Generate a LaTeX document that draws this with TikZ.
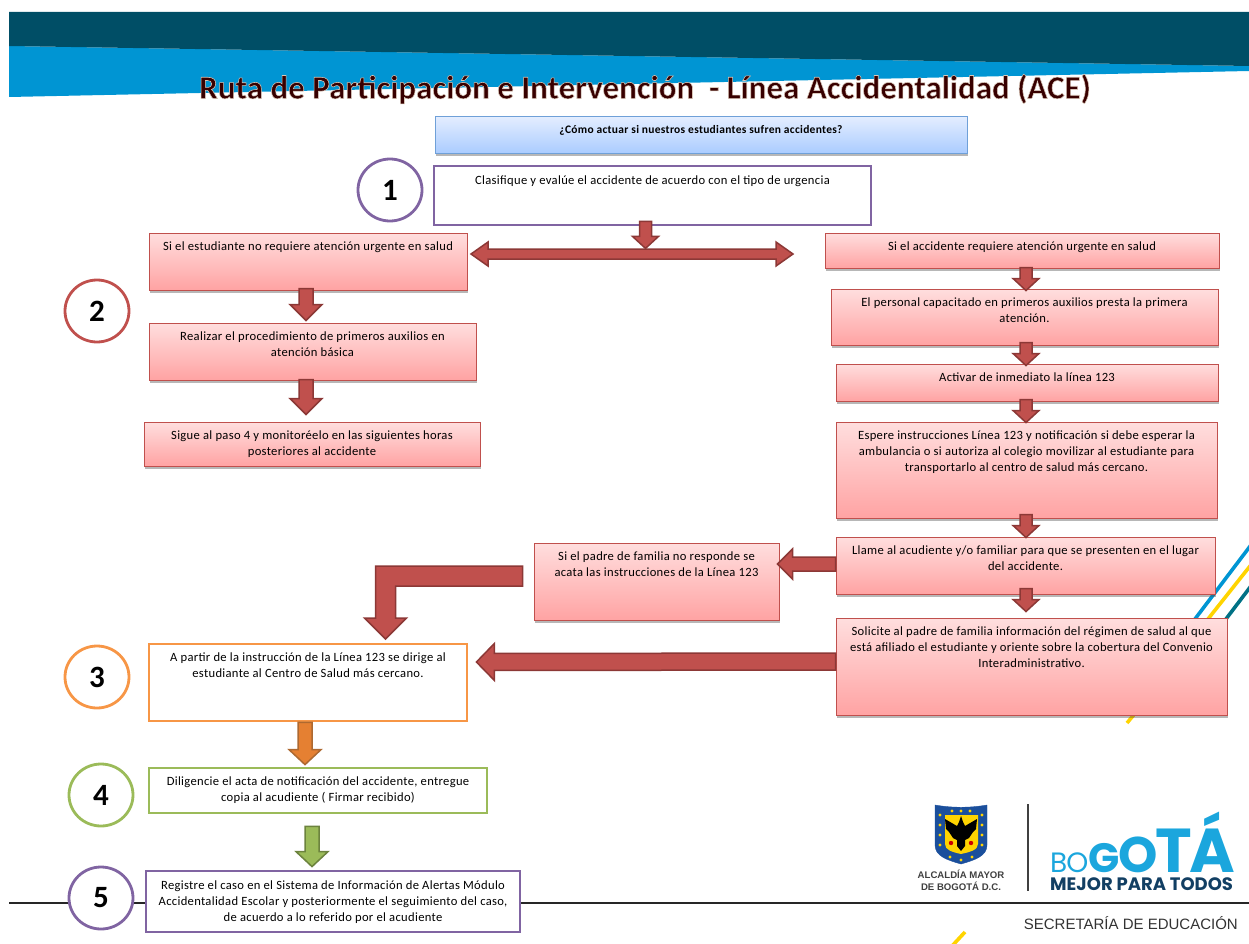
\documentclass[tikz,border=0pt]{standalone}
\usepackage{fontspec}
\setmainfont{Carlito}
\newfontfamily\bodyf[LetterSpace=2.5]{Carlito}
\newfontfamily\lib{Liberation Sans}
\newfontfamily\pop{Poppins}
\usetikzlibrary{calc,shadows,shapes.geometric}
\definecolor{teal1}{HTML}{004E66}
\definecolor{blue1}{HTML}{0095D3}
\definecolor{redf}{HTML}{C0504D}
\definecolor{redd}{HTML}{8C3836}
\definecolor{purp}{HTML}{8064A2}
\definecolor{oran}{HTML}{F79646}
\definecolor{oranf}{HTML}{E58032}
\definecolor{gren}{HTML}{9BBB59}
\definecolor{navy1}{HTML}{123F63}
\definecolor{logob}{HTML}{1BA6DD}
\definecolor{yel}{HTML}{FFD400}
\definecolor{pinkt}{HTML}{FFDEDE}
\definecolor{pinkb}{HTML}{FFA3A3}
\definecolor{blt}{HTML}{E3EDFF}
\definecolor{blb}{HTML}{A9CBFF}
\definecolor{bld}{HTML}{6FA0D8}
\definecolor{shield}{HTML}{1B4F9C}
\tikzset{
 shad/.style={drop shadow={shadow xshift=1pt,shadow yshift=-2.5pt,opacity=.4,fill=black!70}},
 pinkbox/.style={rectangle,shad,draw=redf,line width=1pt,top color=pinkt,bottom color=pinkb},
 bluebox/.style={rectangle,shad,draw=bld,line width=1pt,top color=blt,bottom color=blb},
 purpbox/.style={rectangle,draw=purp,line width=2.8pt,fill=white},
 oranbox/.style={rectangle,draw=oran,line width=2.8pt,fill=white},
 grenbox/.style={rectangle,draw=gren,line width=2.8pt,fill=white},
 numc/.style={ellipse,minimum width=64pt,minimum height=62pt,inner sep=0pt,line width=2.8pt,fill=white,font=\fontsize{31}{31}\selectfont\bfseries},
 redarrow/.style={fill=redf,draw=redd,line width=1.5pt,line join=miter},
 orarrow/.style={fill=oranf,draw=oran!70!black,line width=1.5pt},
 grarrow/.style={fill=gren,draw=gren!70!black,line width=1.5pt},
 stripe/.style={line width=3.6pt},
}
\newcommand\flowbox[8]{% name style x1 y1 x2 y2 toppad text
 \pgfmathsetmacro\bw{#5-#3}\pgfmathsetmacro\bh{#6-#4}
 \node[#2,inner sep=0pt,minimum width=\bw pt,minimum height=\bh pt] (#1) at ({(#3+#5)/2},{(#4+#6)/2})
  {\parbox[c][\bh pt][t]{\bw pt}{\centering\bodyf\fontsize{12.6}{15.8}\selectfont\vspace*{#7pt}#8\par}};}
\newcommand\blockarrow[6]{% style a b halfshaft halfhead headlen
 \coordinate (bA) at (#2);\coordinate (bB) at (#3);
 \coordinate (bC) at ($(bB)!#6pt!(bA)$);
 \draw[#1] ($(bA)!#4pt!90:(bB)$) -- ($(bC)!#4pt!-90:(bA)$) -- ($(bC)!#5pt!-90:(bA)$) -- (bB)
  -- ($(bC)!#5pt!90:(bA)$) -- ($(bC)!#4pt!90:(bA)$) -- ($(bA)!#4pt!-90:(bB)$) -- cycle;}
\begin{document}
\begin{tikzpicture}[x=1pt,y=-1pt]
\useasboundingbox (0,0) rectangle (1249,944);
% banner
\fill[blue1] (9,46) -- (1249,66) -- (1249,71) -- (9,97) -- cycle;
\fill[teal1] (9,12) -- (1249,12) -- (1249,66) -- (9,46) -- cycle;
% stripes behind the boxes
\draw[stripe,blue1] (1195,619) -- (1254,541);
\draw[stripe,yel] (1208,619) -- (1254,561);
\draw[stripe,teal1!80!cyan] (1226,619) -- (1254,582);
\draw[stripe,yel] (1127,723) -- (1137,711);
\draw[stripe,yel] (952,946) -- (965,932);
% base line
\draw[line width=1.2pt,black!85] (9,903) -- (1249,903);
% title
\node[font=\fontsize{33}{36}\selectfont\bfseries,inner sep=0pt] (title) at (645,89)
 {\color{red!22!black}\special{pdf:code q 2 Tr 0.55 w 0.85 0.78 0.72 RG}Ruta de Participación e Intervención\ \ - Línea Accidentalidad (ACE)\special{pdf:code Q}};
% boxes
\flowbox{q}{bluebox}{435}{117}{967}{154}{8}{\bfseries\fontsize{11.5}{14}\selectfont ¿Cómo actuar si nuestros estudiantes sufren accidentes?}
\flowbox{b1}{purpbox}{434}{166}{871}{225}{10}{Clasifique y evalúe el accidente de acuerdo con el tipo de urgencia}
\flowbox{l1}{pinkbox}{149}{233}{467}{290}{9}{Si el estudiante no requiere atención urgente en salud}
\flowbox{r1}{pinkbox}{825}{233}{1219}{268}{9}{Si el accidente requiere atención urgente en salud}
\flowbox{l2}{pinkbox}{149}{323}{476}{380}{9}{Realizar el procedimiento de primeros auxilios en\\atención básica}
\flowbox{l3}{pinkbox}{144}{422}{480}{466}{9}{Sigue al paso 4 y monitoréelo en las siguientes horas\\posteriores al accidente}
\flowbox{r2}{pinkbox}{831}{289}{1218}{345}{9}{El personal capacitado en primeros auxilios presta la primera\\atención.}
\flowbox{r3}{pinkbox}{836}{364}{1218}{401}{9}{Activar de inmediato la línea 123}
\flowbox{r4}{pinkbox}{836}{422}{1217}{518}{9}{Espere instrucciones Línea 123 y notificación si debe esperar la\\ambulancia o si autoriza al colegio movilizar al estudiante para\\transportarlo al centro de salud más cercano.}
\flowbox{r5}{pinkbox}{836}{537}{1215}{594}{9}{Llame al acudiente y/o familiar para que se presenten en el lugar\\del accidente.}
\flowbox{m}{pinkbox}{534}{543}{779}{620}{9}{Si el padre de familia no responde se\\acata las instrucciones de la Línea 123}
\flowbox{r6}{pinkbox}{836}{618}{1227}{715}{9}{Solicite al padre de familia información del régimen de salud al que\\está afiliado el estudiante y oriente sobre la cobertura del Convenio\\Interadministrativo.}
\flowbox{o}{oranbox}{149}{644}{467}{721}{9}{A partir de la instrucción de la Línea 123 se dirige al\\estudiante al Centro de Salud más cercano.}
\flowbox{g}{grenbox}{149}{768}{487}{813}{9}{Diligencie el acta de notificación del accidente, entregue\\copia al acudiente ( Firmar recibido)}
\flowbox{p}{purpbox}{146}{871}{520}{932}{10}{Registre el caso en el Sistema de Información de Alertas Módulo\\Accidentalidad Escolar y posteriormente el seguimiento del caso,\\de acuerdo a lo referido por el acudiente}
% numbered circles
\node[numc,draw=purp] (n1) at (390,190) {1};
\node[numc,draw=redf] (n2) at (97,311) {2};
\node[numc,draw=oran] (n3) at (97,677) {3};
\node[numc,draw=gren] (n4) at (101,795) {4};
\node[numc,draw=purp] (n5) at (101,898) {5};
% arrows
\coordinate (dl) at (471,254);
\coordinate (dr) at (793,254);
\blockarrow{redarrow}{[xshift=-7pt,yshift=5pt]b1.south}{[xshift=-7pt,yshift=-22pt]b1.south}{6}{13}{12}
\coordinate (dlh) at ($(dl)!17pt!(dr)$);
\coordinate (drh) at ($(dr)!17pt!(dl)$);
\draw[redarrow] (dl) -- ($(dlh)+(0,-12)$) -- ($(dlh)+(0,-5)$) -- ($(drh)+(0,-5)$) -- ($(drh)+(0,-12)$) -- (dr) -- ($(drh)+(0,12)$) -- ($(drh)+(0,5)$) -- ($(dlh)+(0,5)$) -- ($(dlh)+(0,12)$) -- cycle;
\blockarrow{redarrow}{[xshift=-2pt,yshift=2pt]l1.south}{[xshift=-6.5pt,yshift=2pt]l2.north}{7}{16}{16}
\blockarrow{redarrow}{[xshift=-6.5pt,yshift=1pt]l2.south}{[xshift=-6pt,yshift=7pt]l3.north}{7}{16}{16}
\blockarrow{redarrow}{[xshift=4pt,yshift=1pt]r1.south}{[xshift=1.5pt,yshift=-2pt]r2.north}{6}{13}{12}
\blockarrow{redarrow}{[xshift=1.5pt,yshift=3pt]r2.south}{[xshift=-1pt,yshift=-2pt]r3.north}{6}{13}{12}
\blockarrow{redarrow}{[xshift=-1pt,yshift=2pt]r3.south}{[xshift=-.5pt,yshift=-1pt]r4.north}{6}{13}{12}
\blockarrow{redarrow}{[xshift=-.5pt,yshift=4pt]r4.south}{[xshift=.5pt,yshift=-1pt]r5.north}{6}{13}{12}
\blockarrow{redarrow}{[xshift=.5pt,yshift=6pt]r5.south}{[xshift=-5.5pt,yshift=6pt]r6.north}{6}{13}{12}
\blockarrow{redarrow}{[yshift=1.5pt]r5.west}{[xshift=-2pt,yshift=17.5pt]m.east}{7}{15}{15}
\blockarrow{redarrow}{[yshift=5pt]r6.west}{[xshift=8pt,yshift=20.5pt]o.east}{8.5}{18.5}{18}
\coordinate (bs) at ($(m.west)+(-11,-15.5)$);
\draw[redarrow] (bs) -- ++(-147,0) -- ++(0,52) -- ++(-11,0) -- ++(21,21) -- ++(21,-21) -- ++(-11,0) -- ++(0,-32) -- ++(127,0) -- cycle;
\blockarrow{orarrow}{[xshift=-3pt]o.south}{[xshift=-13pt,yshift=2pt]g.north}{7}{16}{15}
\blockarrow{grarrow}{[xshift=-6pt,yshift=-12pt]g.south}{[xshift=-21pt,yshift=3pt]p.north}{7}{16}{15}
% logo: shield
\draw[fill=shield,draw=shield] (935,805) .. controls (952,808) and (970,808) .. (987,805) -- (987,845) .. controls (987,856) and (975,860) .. (961,864) .. controls (947,860) and (935,856) .. (935,845) -- cycle;
\fill[yel] (945,815) -- (978,815) -- (978,844) .. controls (978,850) and (970,852) .. (961,854) .. controls (952,852) and (945,850) .. (945,844) -- cycle;
\foreach \sx/\sy in {940/815,940/825,940/835,940/845,982/815,982/825,982/835,982/845,952/811,961/811,970/811,950/857,961/860,972/857}
 \fill[yel] (\sx,\sy) circle (1.7);
\fill[black] (961,816) -- (963,822) -- (965,826) -- (977,819) -- (976,829) -- (973,832) -- (969,838) -- (965,840) -- (965,846) -- (961,851) -- (957,846) -- (957,840) -- (953,838) -- (949,832) -- (946,829) -- (945,819) -- (957,826) -- (959,822) -- cycle;
\foreach \sx in {951,971}{\fill[red!80!black] (\sx,843) circle (2.2);}
% logo: texts and rule
\draw[line width=1.4pt,black!75] (1028,804) -- (1028,891);
\node[anchor=base,inner sep=0pt,font=\lib\bfseries\fontsize{9.6}{12}\selectfont,text=black!75,align=center] (al1) at (961,878) {ALCALDÍA MAYOR};
\node[anchor=base,inner sep=0pt,font=\lib\bfseries\fontsize{9.6}{12}\selectfont,text=black!75,align=center] (al2) at (961,890) {DE BOGOTÁ D.C.};
\node[anchor=base west,inner sep=0pt,text=logob] (bog) at (1050,872)
 {\pop{\fontsize{28}{28}\selectfont B\kern-1pt O}{\bfseries\fontsize{41}{41}\selectfont G\fontsize{50}{50}\selectfont\kern-1pt O\fontsize{62}{62}\selectfont\kern-2pt T\kern-3pt Á}};
\node[anchor=base west,inner sep=0pt,text=navy1,font=\pop\bfseries\fontsize{18}{18}\selectfont] (mej) at (1050,890) {MEJOR PARA TODOS};
\node[anchor=base east,inner sep=0pt,text=black!80,font=\lib\fontsize{15}{16}\selectfont] (sec) at (1238,929) {SECRETARÍA DE EDUCACIÓN};
\end{tikzpicture}
\end{document}
